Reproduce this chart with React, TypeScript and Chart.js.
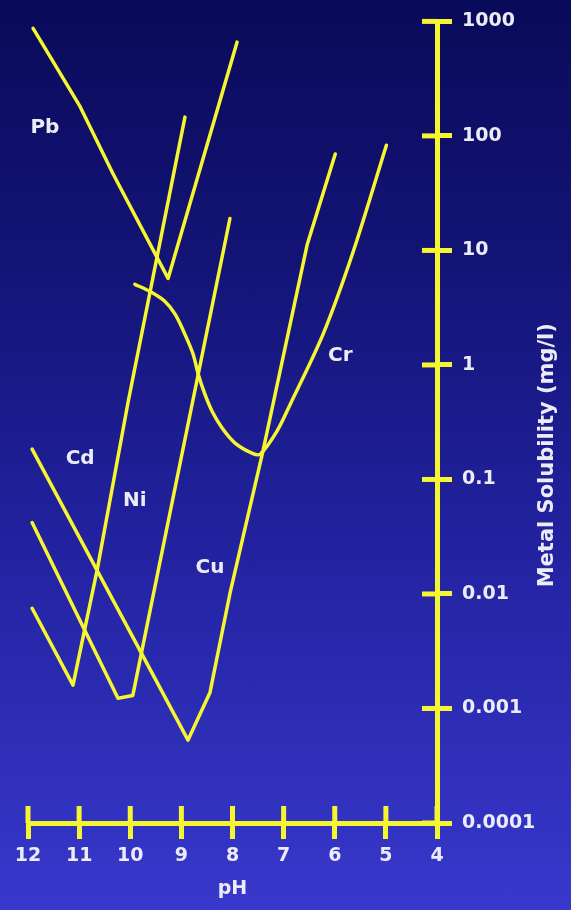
import React, { useEffect, useRef } from 'react';
import { Chart, registerables } from 'chart.js';

Chart.register(...registerables);

const YELLOW = '#f6f630';
const TEXT = '#ececf8';
const FONT = '"DejaVu Sans", "Liberation Sans", Arial, sans-serif';

// Axis ticks
const xTicks = [12, 11, 10, 9, 8, 7, 6, 5, 4];
const yTicks = [0.0001, 0.001, 0.01, 0.1, 1, 10, 100, 1000];
const yTickLabels = ['0.0001', '0.001', '0.01', '0.1', '1', '10', '100', '1000'];
const xTitle = 'pH';
const yTitle = 'Metal Solubility (mg/l)';

// Series (pH, solubility mg/l)
const pbPH = [11.9, 10.98, 10.34, 9.26, 7.91];
const pbSol = [870, 180, 47, 5.7, 660];

const cdPH = [11.92, 11.12, 10.65, 10.04, 8.93];
const cdSol = [0.0075, 0.0016, 0.016, 0.48, 146];

const niPH = [11.92, 10.24, 9.95, 8.05];
const niSol = [0.042, 0.00123, 0.0013, 19];

const cuPH = [11.92, 8.87, 8.44, 8.05, 7.4, 6.54, 5.99];
const cuSol = [0.184, 0.00053, 0.00138, 0.0101, 0.18, 11.2, 69.5];

const crPH = [9.91, 9.61, 9.32, 9.12, 8.93, 8.77, 8.67, 8.54, 8.4, 8.2, 7.95, 7.62, 7.46, 7.13, 6.87, 6.23, 5.64, 4.99];
const crSol = [5.06, 4.37, 3.58, 2.76, 1.85, 1.24, 0.83, 0.555, 0.394, 0.28, 0.208, 0.17, 0.166, 0.264, 0.454, 1.85, 9.75, 83];

// Curve labels (placed in data coordinates)
const metalNames = ['Pb', 'Cd', 'Ni', 'Cu', 'Cr'];
const labelPH = [11.67, 10.98, 9.91, 8.44, 5.89];
const labelSol = [117, 0.151, 0.065, 0.0169, 1.19];

const toPoints = (xs: number[], ys: number[]) => xs.map((x, i) => ({ x, y: ys[i] }));

const overlayPlugin = {
  id: 'overlay',
  afterDraw(chart: any) {
    const { ctx, chartArea, scales } = chart;
    const xs = scales.x;
    const ys = scales.y;
    ctx.save();
    ctx.strokeStyle = YELLOW;
    ctx.lineWidth = 5;
    yTicks.forEach((v) => {
      const py = ys.getPixelForValue(v);
      ctx.beginPath();
      ctx.moveTo(chartArea.right - 15, py);
      ctx.lineTo(chartArea.right, py);
      ctx.stroke();
    });
    xTicks.forEach((v) => {
      const px = xs.getPixelForValue(v);
      ctx.beginPath();
      ctx.moveTo(px, chartArea.bottom - 17);
      ctx.lineTo(px, chartArea.bottom);
      ctx.stroke();
    });
    ctx.fillStyle = TEXT;
    ctx.font = `bold 20px ${FONT}`;
    ctx.textAlign = 'center';
    ctx.textBaseline = 'middle';
    metalNames.forEach((n, i) => {
      ctx.fillText(n, xs.getPixelForValue(labelPH[i]), ys.getPixelForValue(labelSol[i]));
    });
    ctx.translate(chart.width - 23, (chartArea.top + chartArea.bottom) / 2 + 33);
    ctx.rotate(-Math.PI / 2);
    ctx.font = `bold 21px ${FONT}`;
    ctx.fillText(yTitle, 0, 0);
    ctx.restore();
  },
};

export default function App() {
  const canvasRef = useRef<HTMLCanvasElement | null>(null);

  useEffect(() => {
    if (!canvasRef.current) return;
    const lineStyle = {
      borderColor: YELLOW,
      borderWidth: 3.5,
      pointRadius: 0,
      fill: false,
      borderCapStyle: 'round',
      borderJoinStyle: 'round',
      tension: 0,
    };
    const tickFont = { family: FONT, size: 19, weight: 'bold' as const };
    const chart = new Chart(canvasRef.current, {
      type: 'line',
      data: {
        datasets: [
          { label: 'Pb', data: toPoints(pbPH, pbSol), ...lineStyle },
          { label: 'Cd', data: toPoints(cdPH, cdSol), ...lineStyle },
          { label: 'Ni', data: toPoints(niPH, niSol), ...lineStyle },
          { label: 'Cu', data: toPoints(cuPH, cuSol), ...lineStyle },
          { label: 'Cr', data: toPoints(crPH, crSol), ...lineStyle, tension: 0.3 },
        ] as any,
      },
      options: {
        animation: false,
        responsive: false,
        layout: { padding: { left: 28, top: 19, right: 0, bottom: 0 } },
        plugins: { legend: { display: false }, tooltip: { enabled: false } },
        scales: {
          x: {
            type: 'linear',
            reverse: true,
            min: 4,
            max: 12,
            afterBuildTicks: (s: any) => {
              s.ticks = xTicks.map((v) => ({ value: v }));
            },
            afterFit: (s: any) => {
              s.height = 87;
            },
            ticks: { color: TEXT, font: tickFont, padding: 6, maxRotation: 0, autoSkip: false },
            grid: { display: true, drawOnChartArea: false, drawTicks: true, tickLength: 16, color: YELLOW, lineWidth: 5 },
            border: { display: true, color: YELLOW, width: 5 },
            title: { display: true, text: xTitle, color: TEXT, font: tickFont, padding: { top: 0, bottom: 10 } },
          },
          y: {
            type: 'logarithmic',
            position: 'right',
            min: 0.0001,
            max: 1000,
            afterBuildTicks: (s: any) => {
              s.ticks = yTicks.map((v) => ({ value: v }));
            },
            afterFit: (s: any) => {
              s.width = 134;
            },
            ticks: {
              color: TEXT,
              font: tickFont,
              padding: 10,
              autoSkip: false,
              callback: (v: any) => {
                const i = yTicks.indexOf(Number(v));
                return i >= 0 ? yTickLabels[i] : '';
              },
            },
            grid: { display: true, drawOnChartArea: false, drawTicks: true, tickLength: 15, color: YELLOW, lineWidth: 5 },
            border: { display: true, color: YELLOW, width: 5 },
          },
        },
      } as any,
      plugins: [overlayPlugin],
    });
    return () => chart.destroy();
  }, []);

  return (
    <div
      style={{
        position: 'absolute',
        left: 0,
        top: 0,
        width: 571,
        height: 910,
        background: 'linear-gradient(to bottom, #0a0a5a 0%, #141478 30%, #2222a0 60%, #3838cc 100%)',
      }}
    >
      <canvas ref={canvasRef} width={571} height={910} style={{ display: 'block' }} />
    </div>
  );
}
